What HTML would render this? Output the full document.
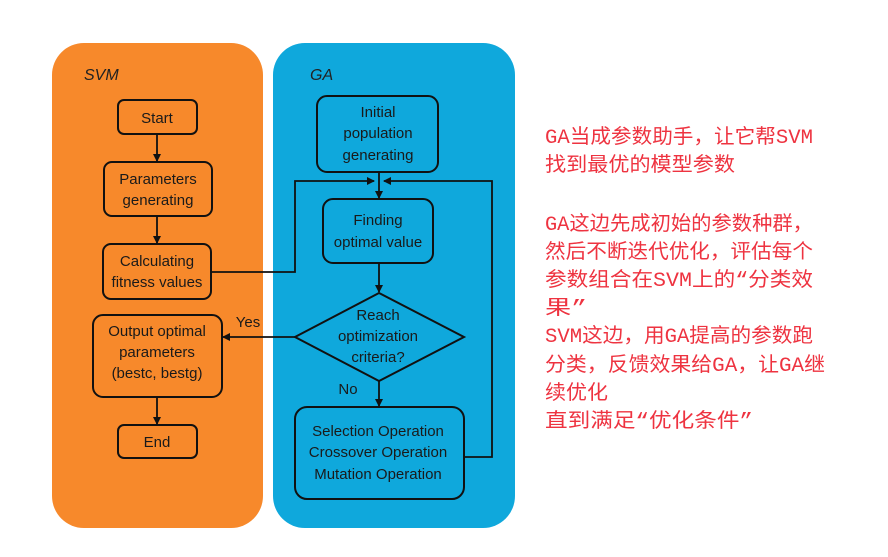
<!DOCTYPE html>
<html><head><meta charset="utf-8"><style>
html,body{margin:0;padding:0;background:#fff;}
svg{display:block}
.t{font-family:"Liberation Sans","DejaVu Sans",sans-serif;font-size:15px;fill:#1a1a1a;text-anchor:middle}
.c{font-family:"Liberation Mono","Noto Sans CJK SC",monospace;font-size:20px;fill:#ee3340}
</style></head><body>
<svg width="888" height="557" viewBox="0 0 888 557" xmlns="http://www.w3.org/2000/svg">
<defs><marker id="a" markerWidth="8" markerHeight="8" refX="7" refY="4" orient="auto" markerUnits="userSpaceOnUse"><path d="M0,0 L8,4 L0,8 z" fill="#111"/></marker></defs>
<rect x="52" y="43" width="211" height="485" rx="32" fill="#F7892B"/>
<rect x="273" y="43" width="242" height="485" rx="32" fill="#0FA8DC"/>
<text x="84" y="80" style="font-family:'Liberation Sans',sans-serif;font-style:italic;font-size:16px;fill:#222">SVM</text>
<text x="310" y="80" style="font-family:'Liberation Sans',sans-serif;font-style:italic;font-size:16px;fill:#222">GA</text>
<g fill="none" stroke="#111" stroke-width="2">
<rect x="118" y="100" width="79" height="34" rx="6"/>
<rect x="104" y="162" width="108" height="54" rx="8"/>
<rect x="103" y="244" width="108" height="55" rx="8"/>
<rect x="93" y="315" width="129" height="82" rx="10"/>
<rect x="118" y="425" width="79" height="33" rx="6"/>
<rect x="317" y="96" width="121" height="76" rx="10"/>
<rect x="323" y="199" width="110" height="64" rx="10"/>
<path d="M379,293 L464,337 L379,381 L295,337 Z"/>
<rect x="295" y="407" width="169" height="92" rx="12"/>
</g>
<g fill="none" stroke="#111" stroke-width="1.8">
<line x1="157" y1="134" x2="157" y2="161" marker-end="url(#a)"/>
<line x1="157" y1="216" x2="157" y2="243" marker-end="url(#a)"/>
<line x1="157" y1="397" x2="157" y2="424" marker-end="url(#a)"/>
<polyline points="211,272 295,272 295,181 374,181" marker-end="url(#a)"/>
<polyline points="464,457 492,457 492,181 384,181" marker-end="url(#a)"/>
<line x1="379" y1="172" x2="379" y2="198" marker-end="url(#a)"/>
<line x1="379" y1="263" x2="379" y2="292" marker-end="url(#a)"/>
<line x1="379" y1="381" x2="379" y2="406" marker-end="url(#a)"/>
<line x1="295" y1="337" x2="223" y2="337" marker-end="url(#a)"/>
</g>
<text class="t" x="157" y="123">Start</text>
<text class="t" x="158" y="184">Parameters</text><text class="t" x="158" y="205">generating</text>
<text class="t" x="157" y="266">Calculating</text><text class="t" x="157" y="287">fitness values</text>
<text class="t" x="157" y="336">Output optimal</text><text class="t" x="157" y="357">parameters</text><text class="t" x="157" y="378">(bestc, bestg)</text>
<text class="t" x="157" y="447">End</text>
<text class="t" x="378" y="117">Initial</text><text class="t" x="378" y="138">population</text><text class="t" x="378" y="160">generating</text>
<text class="t" x="378" y="225">Finding</text><text class="t" x="378" y="247">optimal value</text>
<text class="t" x="378" y="320">Reach</text><text class="t" x="378" y="341">optimization</text><text class="t" x="378" y="362">criteria?</text>
<text class="t" x="248" y="327">Yes</text>
<text class="t" x="348" y="394">No</text>
<text class="t" x="378" y="436">Selection Operation</text><text class="t" x="378" y="457">Crossover Operation</text><text class="t" x="378" y="479">Mutation Operation</text>
<text class="c" x="545" y="143" textLength="268" lengthAdjust="spacingAndGlyphs">GA当成参数助手，让它帮SVM</text>
<text class="c" x="545" y="171" textLength="190" lengthAdjust="spacingAndGlyphs">找到最优的模型参数</text>
<text class="c" x="545" y="230" textLength="268" lengthAdjust="spacingAndGlyphs">GA这边先成初始的参数种群，</text>
<text class="c" x="545" y="258" textLength="268" lengthAdjust="spacingAndGlyphs">然后不断迭代优化，评估每个</text>
<text class="c" x="545" y="286" textLength="268" lengthAdjust="spacingAndGlyphs">参数组合在SVM上的“分类效</text>
<text class="c" x="545" y="314" textLength="42" lengthAdjust="spacingAndGlyphs">果”</text>
<text class="c" x="545" y="342" textLength="268" lengthAdjust="spacingAndGlyphs">SVM这边，用GA提高的参数跑</text>
<text class="c" x="545" y="371" textLength="280" lengthAdjust="spacingAndGlyphs">分类，反馈效果给GA，让GA继</text>
<text class="c" x="545" y="399" textLength="63" lengthAdjust="spacingAndGlyphs">续优化</text>
<text class="c" x="545" y="427" textLength="208" lengthAdjust="spacingAndGlyphs">直到满足“优化条件”</text>
</svg>
</body></html>
